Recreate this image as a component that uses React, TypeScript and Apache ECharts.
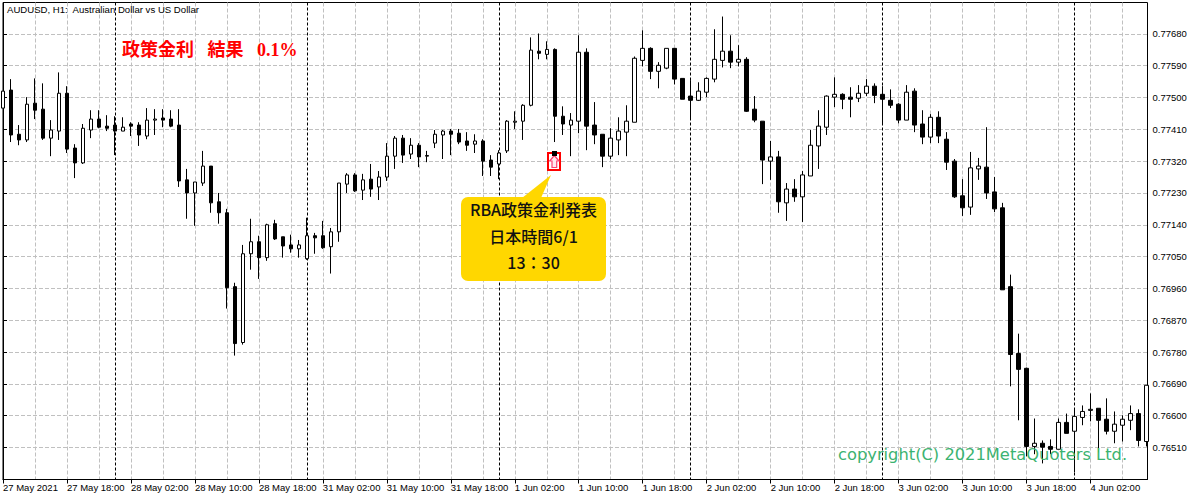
import React, { useEffect, useRef } from "react";
import * as echarts from "echarts";

// All prices are in units of 0.00001 (AUDUSD quoted to five decimals)
const PRICE_UNIT = 100000;

const opens = [
  77470, 77521, 77396, 77380, 77484, 77467, 77385, 77405, 77512, 77357, 77315, 77408, 77439, 77419, 77422, 77405,
  77425, 77422, 77391, 77436, 77442, 77439, 77422, 77267, 77230, 77258, 77306, 77205, 77174, 76965, 76807, 77058,
  77092, 77047, 77143, 77106, 77083, 77072, 77044, 77109, 77109, 77078, 77120, 77255, 77281, 77238, 77269, 77247,
  77275, 77334, 77385, 77340, 77365, 77334, 77371, 77394, 77405, 77399, 77377, 77368, 77377, 77323, 77312, 77349,
  77430, 77433, 77478, 77631, 77622, 77636, 77447, 77422, 77433, 77628, 77422, 77396, 77334, 77380, 77402, 77430,
  77605, 77639, 77574, 77583, 77639, 77554, 77504, 77492, 77515, 77552, 77605, 77631, 77600, 77608, 77467, 77433,
  77320, 77332, 77202, 77241, 77219, 77278, 77363, 77416, 77501, 77509, 77501, 77498, 77512, 77532, 77509, 77492,
  77481, 77436, 77518, 77425, 77388, 77444, 77382, 77320, 77222, 77190, 77298, 77303, 77233, 77188, 76965, 76776,
  76734, 76513, 76522, 76513, 76505, 76581, 76556, 76595, 76615, 76621, 76590, 76556, 76573, 76587, 76606, 76527,
];
const closes = [
  77518, 77394, 77380, 77481, 77464, 77385, 77408, 77512, 77354, 77315, 77413, 77439, 77416, 77413, 77405, 77416,
  77419, 77394, 77436, 77439, 77436, 77419, 77264, 77230, 77261, 77306, 77202, 77174, 76962, 76804, 77058, 77092,
  77047, 77140, 77100, 77080, 77072, 77083, 77109, 77103, 77075, 77120, 77258, 77281, 77236, 77267, 77241, 77275,
  77334, 77385, 77337, 77365, 77332, 77336, 77396, 77405, 77396, 77374, 77365, 77377, 77320, 77303, 77343, 77433,
  77433, 77478, 77634, 77625, 77636, 77447, 77425, 77436, 77628, 77419, 77394, 77334, 77385, 77405, 77433, 77611,
  77639, 77574, 77591, 77639, 77552, 77495, 77492, 77518, 77554, 77608, 77631, 77600, 77608, 77461, 77436, 77323,
  77332, 77205, 77241, 77219, 77281, 77365, 77419, 77504, 77509, 77495, 77495, 77512, 77532, 77506, 77495, 77478,
  77436, 77515, 77422, 77388, 77444, 77391, 77317, 77219, 77188, 77301, 77306, 77230, 77185, 76956, 76773, 76731,
  76513, 76522, 76511, 76505, 76581, 76550, 76598, 76612, 76618, 76587, 76556, 76576, 76590, 76606, 76530, 76686,
];
const lows = [
  77470, 77374, 77365, 77374, 77439, 77380, 77334, 77380, 77343, 77272, 77312, 77385, 77413, 77405, 77337, 77405,
  77391, 77363, 77382, 77394, 77416, 77416, 77247, 77157, 77137, 77250, 77174, 77143, 76903, 76770, 76801, 77013,
  76987, 77038, 77097, 77047, 77061, 77047, 77041, 77058, 77072, 77002, 77092, 77230, 77233, 77210, 77219, 77210,
  77264, 77298, 77315, 77326, 77303, 77317, 77357, 77326, 77337, 77368, 77349, 77343, 77278, 77278, 77269, 77343,
  77411, 77380, 77475, 77608, 77608, 77374, 77394, 77334, 77399, 77351, 77368, 77303, 77326, 77337, 77334, 77430,
  77588, 77552, 77526, 77580, 77537, 77495, 77439, 77490, 77501, 77543, 77585, 77583, 77588, 77459, 77430, 77255,
  77267, 77174, 77151, 77205, 77148, 77278, 77298, 77394, 77473, 77467, 77444, 77487, 77504, 77484, 77422, 77470,
  77427, 77436, 77402, 77368, 77371, 77371, 77295, 77216, 77165, 77168, 77267, 77213, 77176, 76956, 76683, 76587,
  76485, 76491, 76465, 76491, 76505, 76550, 76440, 76573, 76584, 76496, 76547, 76522, 76527, 76559, 76513, 76513,
];
const highs = [
  77518, 77552, 77422, 77501, 77554, 77540, 77436, 77571, 77532, 77368, 77425, 77464, 77464, 77450, 77447, 77444,
  77430, 77430, 77470, 77467, 77467, 77464, 77467, 77298, 77261, 77349, 77306, 77230, 77185, 76976, 77083, 77157,
  77109, 77143, 77154, 77106, 77112, 77097, 77160, 77117, 77151, 77131, 77258, 77286, 77286, 77284, 77312, 77292,
  77371, 77391, 77394, 77385, 77371, 77349, 77408, 77408, 77411, 77411, 77402, 77396, 77382, 77337, 77351, 77436,
  77461, 77481, 77670, 77681, 77659, 77639, 77475, 77456, 77676, 77639, 77487, 77396, 77413, 77444, 77478, 77616,
  77690, 77642, 77600, 77639, 77639, 77554, 77549, 77543, 77557, 77693, 77729, 77676, 77648, 77614, 77504, 77433,
  77377, 77349, 77258, 77269, 77292, 77408, 77464, 77506, 77557, 77512, 77529, 77535, 77552, 77540, 77532, 77523,
  77484, 77535, 77526, 77464, 77453, 77461, 77402, 77326, 77269, 77346, 77329, 77416, 77275, 77202, 76999, 76832,
  76736, 76592, 76530, 76533, 76592, 76606, 76618, 76629, 76663, 76621, 76649, 76612, 76601, 76629, 76618, 76686,
];

const priceTicks = [0.7768, 0.7759, 0.775, 0.7741, 0.7732, 0.7723, 0.7714, 0.7705, 0.7696, 0.7687, 0.7678, 0.7669, 0.766, 0.7651];
const timeLabels = [
  "27 May 2021", "27 May 18:00", "28 May 02:00", "28 May 10:00", "28 May 18:00", "31 May 02:00",
  "31 May 10:00", "31 May 18:00", "1 Jun 02:00", "1 Jun 10:00", "1 Jun 18:00", "2 Jun 02:00",
  "2 Jun 10:00", "2 Jun 18:00", "3 Jun 02:00", "3 Jun 10:00", "3 Jun 18:00", "4 Jun 02:00",
];
const labelStep = 8;
const gridStep = 4;
const dayBreaks = [14, 38, 62, 86, 110, 134];

const AXIS_FONT = "Liberation Sans";
const JP_FONT = "Noto Sans CJK JP";

export default function App() {
  const ref = useRef<HTMLDivElement>(null);

  useEffect(() => {
    if (!ref.current) return;
    const chart = echarts.init(ref.current, undefined, { renderer: "svg" });

    const candles = opens.map((o, i) => [i, o / PRICE_UNIT, closes[i] / PRICE_UNIT, lows[i] / PRICE_UNIT, highs[i] / PRICE_UNIT]);
    const barCount = opens.length;
    const xMax = barCount - 1 + 0.125;
    const labelTicks = timeLabels.map((_, i) => i * labelStep);
    const gridTicks: number[] = [];
    for (let v = gridStep; v <= xMax; v += gridStep) gridTicks.push(v);

    const hiddenX = (ticks: number[], lineStyle: any) => ({
      type: "value",
      min: 0,
      max: xMax,
      position: "bottom",
      axisLine: { show: false },
      axisLabel: { show: false },
      axisTick: { show: false, customValues: ticks },
      splitLine: { show: true, lineStyle },
    });

    chart.setOption({
      animation: false,
      backgroundColor: "#ffffff",
      grid: {
        show: true,
        left: 2.5,
        top: 2.5,
        width: 1145,
        height: 477,
        borderColor: "#000000",
        borderWidth: 1,
        backgroundColor: "#ffffff",
      },
      xAxis: [
        {
          type: "value",
          min: 0,
          max: xMax,
          position: "bottom",
          axisLine: { show: true, lineStyle: { color: "#000000", width: 1 } },
          axisTick: { show: true, length: 4, customValues: labelTicks, lineStyle: { color: "#000000", width: 1 } },
          axisLabel: {
            show: true,
            customValues: labelTicks,
            align: "left",
            margin: 3,
            color: "#000000",
            fontFamily: AXIS_FONT,
            fontSize: 9.5,
            hideOverlap: false,
            formatter: (v: number) => timeLabels[Math.round(v / labelStep)] ?? "",
          },
          splitLine: { show: false },
        },
        hiddenX(gridTicks, { color: "#c0c0c0", width: 1, type: [4, 2] }),
        hiddenX(dayBreaks, { color: "#000000", width: 1, type: [3, 2] }),
      ],
      yAxis: {
        type: "value",
        position: "right",
        min: 0.764195,
        max: 0.777687,
        scale: true,
        axisLine: { show: true, lineStyle: { color: "#000000", width: 1 } },
        axisTick: { show: true, length: 4, customValues: priceTicks, lineStyle: { color: "#000000", width: 1 } },
        axisLabel: {
          show: true,
          customValues: priceTicks,
          margin: 5,
          color: "#000000",
          fontFamily: AXIS_FONT,
          fontSize: 9.5,
          formatter: (v: number) => v.toFixed(5),
        },
        splitLine: { show: true, lineStyle: { color: "#c0c0c0", width: 1, type: [4, 2] } },
      },
      series: [
        {
          type: "candlestick",
          xAxisIndex: 0,
          yAxisIndex: 0,
          barWidth: 4,
          clip: true,
          data: candles,
          itemStyle: {
            color: "#ffffff",
            color0: "#000000",
            borderColor: "#000000",
            borderColor0: "#000000",
            borderWidth: 1,
          },
        },
      ],
      graphic: [
        {
          type: "text",
          z: 100,
          x: 7,
          y: 4,
          style: { text: "AUDUSD, H1:  Australian Dollar vs US Dollar", font: `9.6px "${AXIS_FONT}"`, fill: "#000000" },
        },
        {
          type: "text",
          z: 100,
          x: 122,
          y: 41,
          style: { text: "政策金利   結果   0.1%", font: `bold 18px "Liberation Serif", "${JP_FONT}"`, fill: "#ff0000" },
        },
        {
          type: "polygon",
          z: 100,
          shape: { points: [[522, 198], [551, 175], [541, 198]] },
          style: { fill: "#ffd700" },
        },
        {
          type: "rect",
          z: 100,
          shape: { x: 461, y: 197, width: 145, height: 84, r: 7 },
          style: { fill: "#ffd700" },
        },
        {
          type: "text",
          z: 101,
          x: 533.5,
          y: 209,
          style: { text: "RBA政策金利発表", font: `500 16px "${JP_FONT}"`, fill: "#111111", textAlign: "center", textVerticalAlign: "middle" },
        },
        {
          type: "text",
          z: 101,
          x: 533.5,
          y: 236,
          style: { text: "日本時間6/1", font: `500 16px "${JP_FONT}"`, fill: "#111111", textAlign: "center", textVerticalAlign: "middle" },
        },
        {
          type: "text",
          z: 101,
          x: 533.5,
          y: 262,
          style: { text: "13：30", font: `500 16px "${JP_FONT}"`, fill: "#111111", textAlign: "center", textVerticalAlign: "middle" },
        },
        {
          type: "rect",
          z: 100,
          shape: { x: 548, y: 153, width: 12, height: 17 },
          style: { fill: "#ffffff", stroke: "#ff0000", lineWidth: 2 },
        },
        {
          type: "polygon",
          z: 101,
          shape: {
            points: [[554.3, 155.5], [559, 161], [556.7, 161], [556.7, 167.5], [552, 167.5], [552, 161], [549.6, 161]],
          },
          style: { fill: "#ffe8f0", stroke: "#ff4070", lineWidth: 1.2 },
        },
        {
          type: "rect",
          z: 102,
          shape: { x: 552, y: 151, width: 5, height: 5 },
          style: { fill: "#000000" },
        },
        {
          type: "text",
          z: 103,
          x: 838,
          y: 446,
          style: { text: "copyright(C) 2021MetaQuoters Ltd.", font: `16.3px "DejaVu Sans"`, fill: "#3cb371" },
        },
      ],
    });

    return () => chart.dispose();
  }, []);

  return <div ref={ref} style={{ position: "fixed", left: 0, top: 0, width: 1200, height: 500, background: "#fff" }} />;
}
